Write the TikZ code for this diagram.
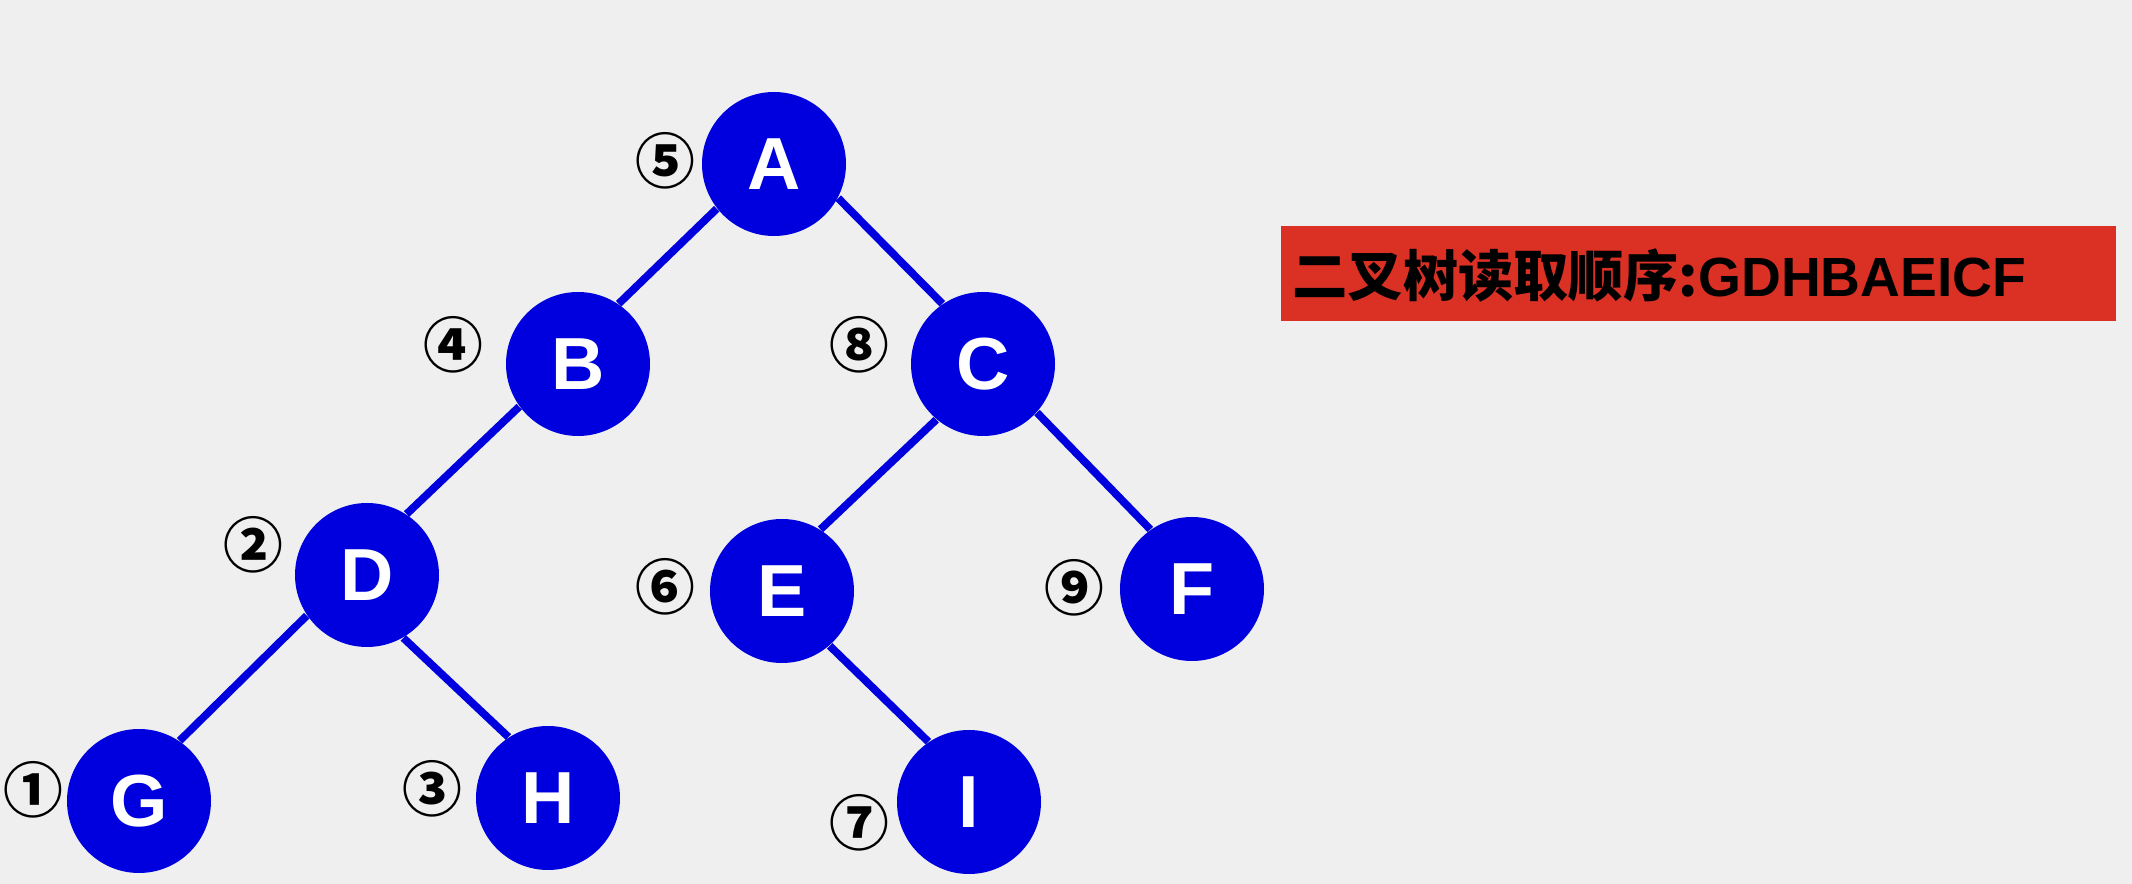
\documentclass[tikz,border=0pt]{standalone}
\usepackage{fontspec}
\setmainfont{Liberation Sans}
\newfontfamily\cjk{Noto Sans CJK SC}
\usetikzlibrary{positioning}
\definecolor{bgrey}{RGB}{239,239,239}
\definecolor{tblue}{RGB}{0,0,222}
\definecolor{tred}{RGB}{219,48,36}

\begin{document}
\begin{tikzpicture}[
    vert/.style={circle, fill=tblue, minimum size=1.44cm, inner sep=0pt,
                 text=white, font=\fontsize{21}{21}\selectfont\bfseries},
    ord/.style={font=\cjk\bfseries\fontsize{17}{17}\selectfont, inner sep=0pt},
    edge/.style={draw=tblue, line width=2.2pt}
]

% Background
\fill[bgrey] (0, 0) rectangle (21.32, -8.84);
\useasboundingbox (0, 0) rectangle (21.32, -8.84);

% Tree nodes
\node[vert] (A) at (7.74, -1.64) {A};
\node[vert] (B) at (5.78, -3.64) {B};
\node[vert] (C) at (9.83, -3.64) {C};
\node[vert] (D) at (3.67, -5.75) {D};
\node[vert] (E) at (7.82, -5.91) {E};
\node[vert] (F) at (11.92, -5.89) {F};
\node[vert] (G) at (1.39, -8.01) {G};
\node[vert] (H) at (5.48, -7.98) {H};
\node[vert] (I) at (9.69, -8.02) {I};

% Edges
\draw[edge] (A.-142) -- (B.56);
\draw[edge] (A.-28) -- (C.124);
\draw[edge] (B.-144) -- (D.57);
\draw[edge] (C.-130) -- (E.58);
\draw[edge] (C.-42) -- (F.125);
\draw[edge] (D.-146) -- (G.56);
\draw[edge] (D.-60) -- (H.123);
\draw[edge] (E.-49) -- (I.124);

% Visiting order
\node[ord] (n5) at (6.65, -1.61) {⑤};
\node[ord] (n4) at (4.53, -3.45) {④};
\node[ord] (n8) at (8.59, -3.45) {⑧};
\node[ord] (n2) at (2.53, -5.45) {②};
\node[ord] (n6) at (6.65, -5.87) {⑥};
\node[ord] (n9) at (10.74, -5.88) {⑨};
\node[ord] (n1) at (0.33, -7.90) {①};
\node[ord] (n3) at (4.32, -7.89) {③};
\node[ord] (n7) at (8.59, -8.23) {⑦};

% Result
\fill[tred] (12.81, -2.26) rectangle (21.16, -3.21);
\node[anchor=west, inner sep=0pt, font=\fontsize{15.7}{16}\selectfont\bfseries] (res)
    at (12.92, -2.75) {{\cjk\bfseries 二叉树读取顺序:}GDHBAEICF};

\end{tikzpicture}
\end{document}
